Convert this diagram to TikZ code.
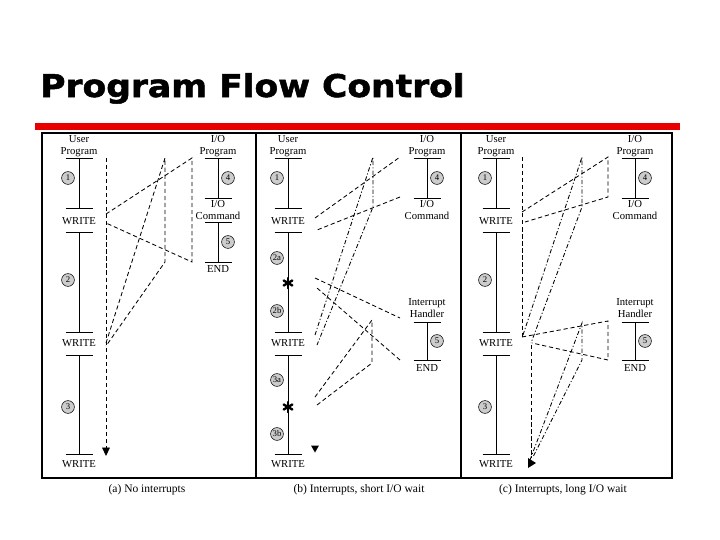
\documentclass[tikz,border=0pt]{standalone}
\usepackage{fontspec}
\setmainfont{Liberation Serif}
\newfontfamily\titlefont{DejaVu Sans}[BoldFeatures={FakeBold=1.6}]
\usepackage{graphicx}
\usepackage{xcolor}
\usepackage{tikz}
\usetikzlibrary{calc,arrows.meta}
\definecolor{barred}{RGB}{232,0,0}

\begin{document}
\begin{tikzpicture}[x=0.25mm,y=-0.25mm,
  lbl/.style={font=\fontsize{7.6}{8.5}\selectfont,align=center,inner sep=0pt},
  captxt/.style={font=\fontsize{8.2}{9}\selectfont,inner sep=0pt},
  num/.style={circle,draw,fill=black!20,minimum size=3.2mm,inner sep=0pt,font=\fontsize{6.2}{7}\selectfont},
  flow/.style={dash pattern=on 3pt off 2pt,line width=0.6pt},
  flowdd/.style={dash pattern=on 3pt off 1.5pt on 0.8pt off 1.5pt,line width=0.6pt}]
\useasboundingbox (0,0) rectangle (720,540);
\node[anchor=base west,inner sep=0pt,font=\titlefont\bfseries\fontsize{22.3}{26}\selectfont] (title) at (40,97) {\scalebox{1.1}[1]{Program Flow Control}};
\fill[barred] (35,123) rectangle (680,130);
\draw[line width=1.4pt] (42,133) rectangle (672,478);
\draw[line width=1.4pt] (256,133) -- (256,478) (461,133) -- (461,478);
% user programs
\foreach \ux/\p in {79/a,288/b,496/c}{
  \node[lbl] (\p-user) at (\ux,146) {User\\Program};
  \foreach \y/\k in {158/top,208/w1a,232/w1b,332/w2a,355/w2b,454/w3}{
    \coordinate (\p-\k) at (\ux,\y);
    \draw (\ux-13.5,\y) -- +(27,0);
  }
  \draw (\p-top) -- (\p-w1a) (\p-w1b) -- (\p-w2a) (\p-w2b) -- (\p-w3);
  \node[lbl] (\p-write1) at (\ux,221) {WRITE};
  \node[lbl] (\p-write2) at (\ux,343) {WRITE};
  \node[lbl] (\p-write3) at (\ux,464) {WRITE};
}
\foreach \ux/\p in {79/a,496/c}
  \foreach \y/\n in {178/1,280/2,407/3}
    \node[num] (\p-n\n) at (\ux-11,\y) {\n};
\foreach \y/\n in {178/1,258/2a,311/2b,380/3a,434/3b}
  \node[num] (b-n\n) at (277,\y) {\n};
\foreach \y/\k in {283/1,407/2}{
  \coordinate (b-int\k) at (288,\y);
  \foreach \a in {90,150,...,450}
    \draw[line width=1.7pt,line cap=round] (b-int\k) -- ++(\a:5);
}
% I/O programs
\foreach \ix/\p in {218/a,427/b,635/c}{
  \node[lbl] (\p-iop) at (\ix,146) {I/O\\Program};
  \coordinate (\p-io1) at (\ix,158);
  \coordinate (\p-io2) at (\ix,198);
  \draw (\ix-13.5,158) -- +(27,0) (\ix-13.5,198) -- +(27,0);
  \draw (\p-io1) -- (\p-io2);
  \node[num] (\p-n4) at (\ix+10,178) {4};
  \node[lbl] (\p-cmd) at (\ix,210) {I/O\\Command};
}
\coordinate (a-io3) at (218,222);
\coordinate (a-io4) at (218,262);
\draw (205,222) -- +(27,0) (205,262) -- +(27,0);
\draw (a-io3) -- (a-io4);
\node[num] (a-n5) at (228,242) {5};
\node[lbl] (a-end) at (218,269) {END};
% interrupt handlers
\foreach \ix/\p in {427/b,635/c}{
  \node[lbl] (\p-hdl) at (\ix,308) {Interrupt\\Handler};
  \coordinate (\p-h1) at (\ix,322);
  \coordinate (\p-h2) at (\ix,360);
  \draw (\ix-13.5,322) -- +(27,0) (\ix-13.5,360) -- +(27,0);
  \draw (\p-h1) -- (\p-h2);
  \node[num] (\p-n5) at (\ix+10,341) {5};
  \node[lbl] (\p-end) at (\ix,368) {END};
}
% flow of control (a)
\coordinate (a-f0) at (106,158); \coordinate (a-f9) at (106,456);
\coordinate (a-s1) at (106,214); \coordinate (a-t1) at (192,158);
\coordinate (a-b1) at (192,262); \coordinate (a-r1) at (106,223);
\coordinate (a-s2) at (106,343); \coordinate (a-t2) at (165,158);
\coordinate (a-b2) at (165,262); \coordinate (a-r2) at (106,346);
\draw[flow,-{Triangle[width=5.5pt,length=6pt]}] (a-f0) -- (a-f9);
\draw[flow] (a-s1) -- (a-t1) -- (a-b1) -- (a-r1);
\draw[flow] (a-s2) -- (a-t2) -- (a-b2) -- (a-r2);
% flow of control (b)
\coordinate (b-s1) at (315,218); \coordinate (b-t1) at (400,157);
\coordinate (b-b1) at (400,197); \coordinate (b-r1) at (317,230);
\coordinate (b-s2) at (315,278); \coordinate (b-t2) at (400,318);
\coordinate (b-b2) at (400,360); \coordinate (b-r2) at (317,288);
\coordinate (b-s3) at (315,335); \coordinate (b-t3) at (373,157);
\coordinate (b-b3) at (373,207); \coordinate (b-r3) at (317,345);
\coordinate (b-s4) at (315,397); \coordinate (b-t4) at (372,320);
\coordinate (b-b4) at (372,363); \coordinate (b-r4) at (317,405);
\draw[flow] (b-s1) -- (b-t1) (b-b1) -- (b-r1);
\draw[flow] (b-s2) -- (b-t2) (b-b2) -- (b-r2);
\draw[flowdd] (b-s3) -- (b-t3) -- (b-b3) -- (b-r3);
\draw[flow] (b-s4) -- (b-t4) -- (b-b4) -- (b-r4);
\coordinate (b-fin) at (315,449);
\fill (b-fin) ++(-4,-3.5) -- ++(8,0) -- ++(-4,7) -- cycle;
% flow of control (c)
\coordinate (c-f0) at (522,157); \coordinate (c-f1) at (522,337);
\coordinate (c-g0) at (531,345); \coordinate (c-g1) at (531,458);
\coordinate (c-s1) at (522,212); \coordinate (c-t1) at (608,157);
\coordinate (c-b1) at (608,197); \coordinate (c-r1) at (525,222);
\coordinate (c-s2) at (522,337); \coordinate (c-t2) at (608,321);
\coordinate (c-b2) at (608,360); \coordinate (c-r2) at (532,343);
\coordinate (c-s3) at (523,335); \coordinate (c-t3) at (582,157);
\coordinate (c-b3) at (582,207); \coordinate (c-r3) at (531,343);
\coordinate (c-t4) at (582,323); \coordinate (c-b4) at (582,360);
\coordinate (c-r4) at (530,460); \coordinate (c-r5) at (533,457);
\draw[flow] (c-f0) -- (c-f1);
\draw[flow] (c-g0) -- (c-g1);
\draw[flow] (c-s1) -- (c-t1) -- (c-b1) -- (c-r1);
\draw[flow] (c-s2) -- (c-t2) -- (c-b2) -- (c-r2);
\draw[flowdd] (c-s3) -- (c-t3) -- (c-b3) -- (c-r3);
\draw[flowdd] (c-r4) -- (c-t4) -- (c-b4) -- (c-r5);
\coordinate (c-fin) at (531,463);
\fill (c-fin) ++(-3,-5) -- ++(0,10) -- ++(8,-5) -- cycle;
% captions
\node[captxt] (a-cap) at (147,490) {(a) No interrupts};
\node[captxt] (b-cap) at (359,490) {(b) Interrupts, short I/O wait};
\node[captxt] (c-cap) at (563,490) {(c) Interrupts, long I/O wait};
\end{tikzpicture}
\end{document}
